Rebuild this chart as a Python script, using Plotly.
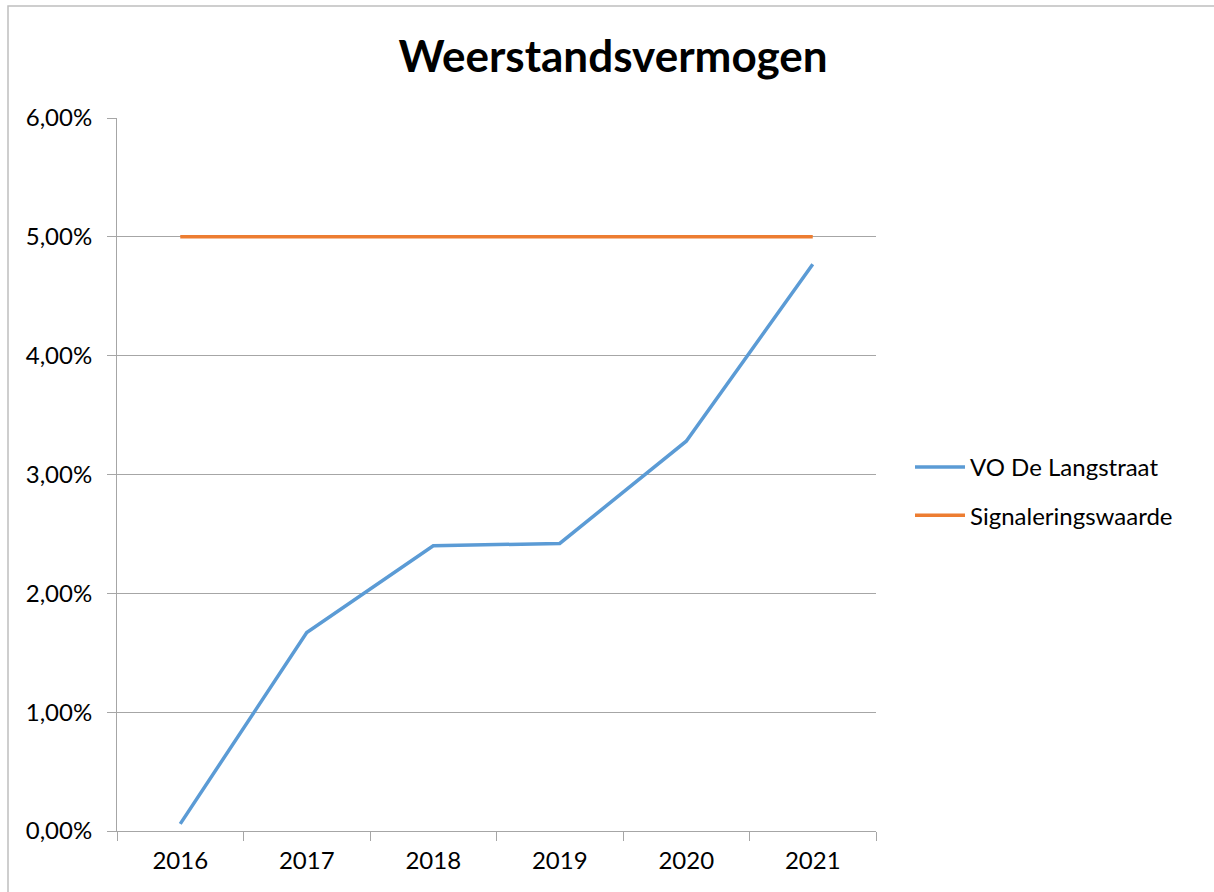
import plotly.graph_objects as go

years = ["2016", "2017", "2018", "2019", "2020", "2021"]
langstraat = [0.0006, 0.0167, 0.0240, 0.0242, 0.0328, 0.0477]
signalering = [0.05, 0.05, 0.05, 0.05, 0.05, 0.05]

FONT = "Lato, 'Open Sans', sans-serif"
GRID = "#A6A6A6"

fig = go.Figure()
fig.add_trace(go.Scatter(x=years, y=langstraat, mode="lines", name="VO De Langstraat",
                         line=dict(color="#5B9BD5", width=3.5), legendgroup="a"))
fig.add_trace(go.Scatter(x=years, y=signalering, mode="lines", name="Signaleringswaarde",
                         line=dict(color="#ED7D31", width=3.5), legendgroup="b"))

L, R, T, B = 117, 876, 118, 831
W, H = 1214, 892
pw, ph = R - L, B - T

def px(x):
    return (x - L) / pw

def py(y):
    return (B - y) / ph

fig.update_layout(
    width=W, height=H,
    margin=dict(l=L, r=W - R, t=T, b=H - B, autoexpand=False),
    paper_bgcolor="white", plot_bgcolor="white",
    separators=",.",
    font=dict(family=FONT, size=24, color="black"),
    title=dict(text="<b>Weerstandsvermogen</b>", font=dict(size=44, family=FONT, color="black"),
               x=0.505, xref="container", y=1 - 57 / H, yref="container",
               xanchor="center", yanchor="middle"),
    legend=dict(x=px(910), y=py(445), xanchor="left", yanchor="top",
                font=dict(size=24, family=FONT), tracegroupgap=14,
                itemwidth=50, bgcolor="rgba(0,0,0,0)"),
    xaxis=dict(type="category", tickson="boundaries", showgrid=False,
               range=[-0.5, 5.5],
               showline=True, linecolor=GRID, linewidth=1,
               ticks="outside", ticklen=9, tickcolor=GRID,
               ticklabelstandoff=8,
               tickfont=dict(size=24), fixedrange=True),
    yaxis=dict(range=[0, 0.06], dtick=0.01, tickformat=".2%",
               showgrid=True, gridcolor=GRID, gridwidth=1,
               showline=True, linecolor=GRID, linewidth=1,
               ticks="outside", ticklen=9, tickcolor=GRID,
               ticklabelstandoff=10,
               tickfont=dict(size=24), zeroline=False, fixedrange=True),
    shapes=[dict(type="rect", xref="paper", yref="paper",
                 x0=px(8), x1=px(1230), y0=py(910), y1=py(6),
                 line=dict(color="#BFBFBF", width=1.5), fillcolor="rgba(0,0,0,0)",
                 layer="below")],
)

fig.write_html("out.html", config={"displayModeBar": False},
               post_script="document.body.style.margin='0';")
